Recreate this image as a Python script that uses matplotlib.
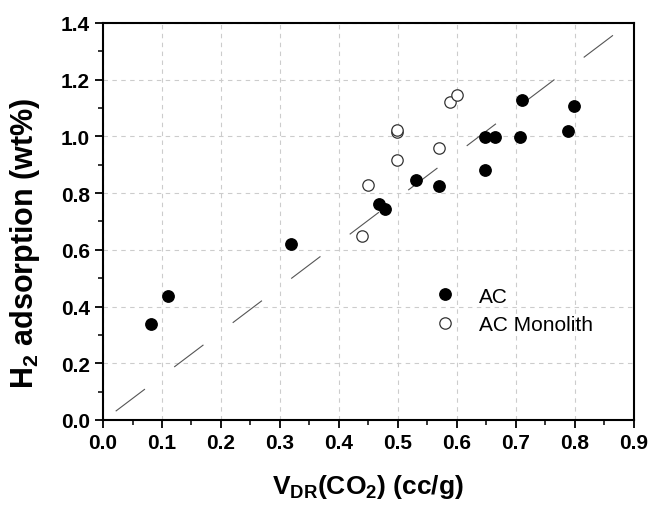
import matplotlib
matplotlib.use("Agg")
import matplotlib.pyplot as plt
from matplotlib.ticker import MultipleLocator

plt.rcParams['font.family'] = ['Liberation Sans', 'DejaVu Sans']
plt.rcParams['mathtext.fontset'] = 'custom'
plt.rcParams['mathtext.rm'] = 'Liberation Sans'
plt.rcParams['mathtext.bf'] = 'Liberation Sans:bold'
plt.rcParams['mathtext.it'] = 'Liberation Sans:italic'

# AC (filled)
ac_x = [0.082, 0.111, 0.319, 0.468, 0.478, 0.530, 0.570, 0.648, 0.648, 0.664, 0.707, 0.710, 0.788, 0.798]
ac_y = [0.337, 0.438, 0.621, 0.762, 0.744, 0.845, 0.826, 0.882, 0.997, 0.997, 0.997, 1.129, 1.018, 1.108]

# AC Monolith (open)
mono_x = [0.440, 0.449, 0.499, 0.499, 0.499, 0.570, 0.588, 0.600]
mono_y = [0.648, 0.829, 0.918, 1.014, 1.023, 0.958, 1.120, 1.146]

# Trend line endpoints
fit_x = [0.0215, 0.877]
fit_y = [0.031, 1.375]

x_ticks = [0.0, 0.1, 0.2, 0.3, 0.4, 0.5, 0.6, 0.7, 0.8, 0.9]
y_ticks = [0.0, 0.2, 0.4, 0.6, 0.8, 1.0, 1.2, 1.4]

fig = plt.figure(figsize=(6.52, 5.06), dpi=100)
ax = fig.add_axes([0.158, 0.168, 0.814, 0.785])

ax.plot(fit_x, fit_y, color='#555555', lw=0.8, linestyle=(0, (33, 33)), zorder=2)

ax.plot(ac_x, ac_y, linestyle='none', marker='o', markersize=8.2,
        markerfacecolor='black', markeredgecolor='black', label='AC', zorder=3)
ax.plot(mono_x, mono_y, linestyle='none', marker='o', markersize=8.2,
        markerfacecolor='white', markeredgecolor='#333333', markeredgewidth=0.9,
        label='AC Monolith', zorder=3)

ax.set_xlim(0, 0.9)
ax.set_ylim(0, 1.4)
ax.set_xticks(x_ticks)
ax.set_yticks(y_ticks)
ax.set_xticklabels([f"{v:.1f}" for v in x_ticks])
ax.set_yticklabels([f"{v:.1f}" for v in y_ticks])
ax.xaxis.set_minor_locator(MultipleLocator(0.05))
ax.yaxis.set_minor_locator(MultipleLocator(0.1))

ax.grid(True, which='major', color='#cccccc', linestyle=(0, (4, 4)), lw=0.8, zorder=0)
ax.set_axisbelow(True)

ax.tick_params(axis='both', which='major', direction='out', length=6, width=1.3,
               labelsize=15, top=False, right=False)
ax.tick_params(axis='both', which='minor', direction='out', length=3.5, width=1.1,
               top=False, right=False)
for lab in ax.get_xticklabels() + ax.get_yticklabels():
    lab.set_fontweight('bold')
for s in ax.spines.values():
    s.set_linewidth(1.5)

ax.set_xlabel(r'V$_{\mathbf{DR}}$(CO$_{\mathbf{2}}$) (cc/g)', fontsize=19, fontweight='bold', labelpad=14)
ax.set_ylabel(r'H$_{\mathbf{2}}$ adsorption (wt%)', fontsize=22, fontweight='bold')
ax.yaxis.set_label_coords(-0.115, 0.448)

leg = ax.legend(loc='upper left', bbox_to_anchor=(0.585, 0.383), frameon=False,
                fontsize=15, handletextpad=1.05, labelspacing=0.45, handlelength=1.2)

fig.savefig('out.png', dpi=100)
